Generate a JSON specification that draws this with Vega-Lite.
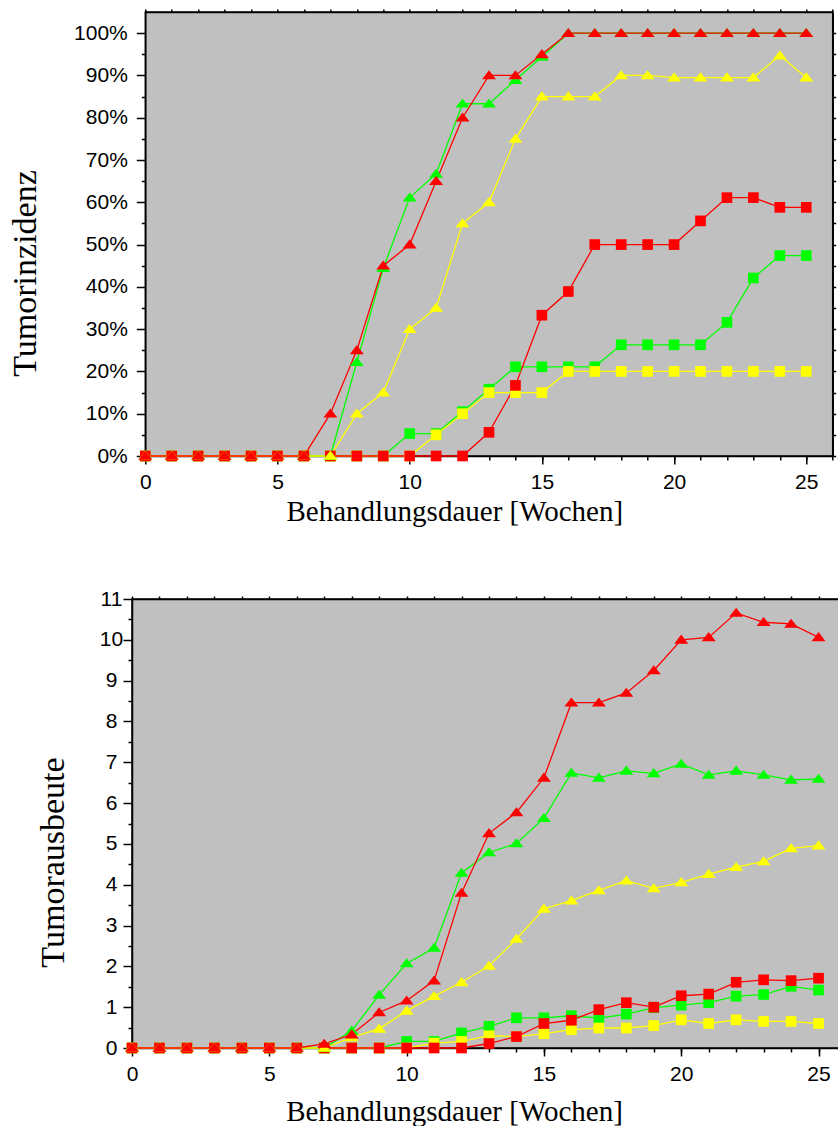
{
  "$schema": "https://vega.github.io/schema/vega-lite/v6.json",
  "autosize": {"type": "pad"},
  "padding": {"left": 7, "top": 7, "right": 0, "bottom": 0},
  "background": "#ffffff",
  "bounds": "flush",
  "center": true,
  "spacing": 143,
  "datasets": {
    "oben": [
      {"woche": 0, "gruen_Quadrat": 0, "gelb_Quadrat": 0, "rot_Quadrat": 0, "gruen_Dreieck": 0, "gelb_Dreieck": 0, "rot_Dreieck": 0},
      {"woche": 1, "gruen_Quadrat": 0, "gelb_Quadrat": 0, "rot_Quadrat": 0, "gruen_Dreieck": 0, "gelb_Dreieck": 0, "rot_Dreieck": 0},
      {"woche": 2, "gruen_Quadrat": 0, "gelb_Quadrat": 0, "rot_Quadrat": 0, "gruen_Dreieck": 0, "gelb_Dreieck": 0, "rot_Dreieck": 0},
      {"woche": 3, "gruen_Quadrat": 0, "gelb_Quadrat": 0, "rot_Quadrat": 0, "gruen_Dreieck": 0, "gelb_Dreieck": 0, "rot_Dreieck": 0},
      {"woche": 4, "gruen_Quadrat": 0, "gelb_Quadrat": 0, "rot_Quadrat": 0, "gruen_Dreieck": 0, "gelb_Dreieck": 0, "rot_Dreieck": 0},
      {"woche": 5, "gruen_Quadrat": 0, "gelb_Quadrat": 0, "rot_Quadrat": 0, "gruen_Dreieck": 0, "gelb_Dreieck": 0, "rot_Dreieck": 0},
      {"woche": 6, "gruen_Quadrat": 0, "gelb_Quadrat": 0, "rot_Quadrat": 0, "gruen_Dreieck": 0, "gelb_Dreieck": 0, "rot_Dreieck": 0},
      {"woche": 7, "gruen_Quadrat": 0, "gelb_Quadrat": 0, "rot_Quadrat": 0, "gruen_Dreieck": 0, "gelb_Dreieck": 0, "rot_Dreieck": 10},
      {"woche": 8, "gruen_Quadrat": 0, "gelb_Quadrat": 0, "rot_Quadrat": 0, "gruen_Dreieck": 22.2, "gelb_Dreieck": 10, "rot_Dreieck": 25},
      {"woche": 9, "gruen_Quadrat": 0, "gelb_Quadrat": 0, "rot_Quadrat": 0, "gruen_Dreieck": 44.4, "gelb_Dreieck": 15, "rot_Dreieck": 45},
      {"woche": 10, "gruen_Quadrat": 5.3, "gelb_Quadrat": 0, "rot_Quadrat": 0, "gruen_Dreieck": 61.1, "gelb_Dreieck": 30, "rot_Dreieck": 50},
      {"woche": 11, "gruen_Quadrat": 5.3, "gelb_Quadrat": 5, "rot_Quadrat": 0, "gruen_Dreieck": 66.7, "gelb_Dreieck": 35, "rot_Dreieck": 65},
      {"woche": 12, "gruen_Quadrat": 10.5, "gelb_Quadrat": 10, "rot_Quadrat": 0, "gruen_Dreieck": 83.3, "gelb_Dreieck": 55, "rot_Dreieck": 80},
      {"woche": 13, "gruen_Quadrat": 15.8, "gelb_Quadrat": 15, "rot_Quadrat": 5.6, "gruen_Dreieck": 83.3, "gelb_Dreieck": 60, "rot_Dreieck": 90},
      {"woche": 14, "gruen_Quadrat": 21.1, "gelb_Quadrat": 15, "rot_Quadrat": 16.7, "gruen_Dreieck": 88.9, "gelb_Dreieck": 75, "rot_Dreieck": 90},
      {"woche": 15, "gruen_Quadrat": 21.1, "gelb_Quadrat": 15, "rot_Quadrat": 33.3, "gruen_Dreieck": 94.4, "gelb_Dreieck": 85, "rot_Dreieck": 95},
      {"woche": 16, "gruen_Quadrat": 21.1, "gelb_Quadrat": 20, "rot_Quadrat": 38.9, "gruen_Dreieck": 100, "gelb_Dreieck": 85, "rot_Dreieck": 100},
      {"woche": 17, "gruen_Quadrat": 21.1, "gelb_Quadrat": 20, "rot_Quadrat": 50, "gruen_Dreieck": 100, "gelb_Dreieck": 85, "rot_Dreieck": 100},
      {"woche": 18, "gruen_Quadrat": 26.3, "gelb_Quadrat": 20, "rot_Quadrat": 50, "gruen_Dreieck": 100, "gelb_Dreieck": 90, "rot_Dreieck": 100},
      {"woche": 19, "gruen_Quadrat": 26.3, "gelb_Quadrat": 20, "rot_Quadrat": 50, "gruen_Dreieck": 100, "gelb_Dreieck": 90, "rot_Dreieck": 100},
      {"woche": 20, "gruen_Quadrat": 26.3, "gelb_Quadrat": 20, "rot_Quadrat": 50, "gruen_Dreieck": 100, "gelb_Dreieck": 89.5, "rot_Dreieck": 100},
      {"woche": 21, "gruen_Quadrat": 26.3, "gelb_Quadrat": 20, "rot_Quadrat": 55.6, "gruen_Dreieck": 100, "gelb_Dreieck": 89.5, "rot_Dreieck": 100},
      {"woche": 22, "gruen_Quadrat": 31.6, "gelb_Quadrat": 20, "rot_Quadrat": 61.1, "gruen_Dreieck": 100, "gelb_Dreieck": 89.5, "rot_Dreieck": 100},
      {"woche": 23, "gruen_Quadrat": 42.1, "gelb_Quadrat": 20, "rot_Quadrat": 61.1, "gruen_Dreieck": 100, "gelb_Dreieck": 89.5, "rot_Dreieck": 100},
      {"woche": 24, "gruen_Quadrat": 47.4, "gelb_Quadrat": 20, "rot_Quadrat": 58.8, "gruen_Dreieck": 100, "gelb_Dreieck": 94.7, "rot_Dreieck": 100},
      {"woche": 25, "gruen_Quadrat": 47.4, "gelb_Quadrat": 20, "rot_Quadrat": 58.8, "gruen_Dreieck": 100, "gelb_Dreieck": 89.5, "rot_Dreieck": 100}
    ],
    "unten": [
      {"woche": 0, "gruen_Quadrat": 0, "gelb_Quadrat": 0, "rot_Quadrat": 0, "gruen_Dreieck": 0, "gelb_Dreieck": 0, "rot_Dreieck": 0},
      {"woche": 1, "gruen_Quadrat": 0, "gelb_Quadrat": 0, "rot_Quadrat": 0, "gruen_Dreieck": 0, "gelb_Dreieck": 0, "rot_Dreieck": 0},
      {"woche": 2, "gruen_Quadrat": 0, "gelb_Quadrat": 0, "rot_Quadrat": 0, "gruen_Dreieck": 0, "gelb_Dreieck": 0, "rot_Dreieck": 0},
      {"woche": 3, "gruen_Quadrat": 0, "gelb_Quadrat": 0, "rot_Quadrat": 0, "gruen_Dreieck": 0, "gelb_Dreieck": 0, "rot_Dreieck": 0},
      {"woche": 4, "gruen_Quadrat": 0, "gelb_Quadrat": 0, "rot_Quadrat": 0, "gruen_Dreieck": 0, "gelb_Dreieck": 0, "rot_Dreieck": 0},
      {"woche": 5, "gruen_Quadrat": 0, "gelb_Quadrat": 0, "rot_Quadrat": 0, "gruen_Dreieck": 0, "gelb_Dreieck": 0, "rot_Dreieck": 0},
      {"woche": 6, "gruen_Quadrat": 0, "gelb_Quadrat": 0, "rot_Quadrat": 0, "gruen_Dreieck": 0, "gelb_Dreieck": 0, "rot_Dreieck": 0},
      {"woche": 7, "gruen_Quadrat": 0, "gelb_Quadrat": 0, "rot_Quadrat": 0, "gruen_Dreieck": 0, "gelb_Dreieck": 0, "rot_Dreieck": 0.10},
      {"woche": 8, "gruen_Quadrat": 0, "gelb_Quadrat": 0, "rot_Quadrat": 0, "gruen_Dreieck": 0.42, "gelb_Dreieck": 0.26, "rot_Dreieck": 0.33},
      {"woche": 9, "gruen_Quadrat": 0, "gelb_Quadrat": 0, "rot_Quadrat": 0, "gruen_Dreieck": 1.30, "gelb_Dreieck": 0.47, "rot_Dreieck": 0.87},
      {"woche": 10, "gruen_Quadrat": 0.16, "gelb_Quadrat": 0, "rot_Quadrat": 0, "gruen_Dreieck": 2.07, "gelb_Dreieck": 0.91, "rot_Dreieck": 1.16},
      {"woche": 11, "gruen_Quadrat": 0.16, "gelb_Quadrat": 0.12, "rot_Quadrat": 0, "gruen_Dreieck": 2.45, "gelb_Dreieck": 1.27, "rot_Dreieck": 1.65},
      {"woche": 12, "gruen_Quadrat": 0.37, "gelb_Quadrat": 0.16, "rot_Quadrat": 0, "gruen_Dreieck": 4.29, "gelb_Dreieck": 1.61, "rot_Dreieck": 3.80},
      {"woche": 13, "gruen_Quadrat": 0.53, "gelb_Quadrat": 0.30, "rot_Quadrat": 0.11, "gruen_Dreieck": 4.79, "gelb_Dreieck": 2.01, "rot_Dreieck": 5.26},
      {"woche": 14, "gruen_Quadrat": 0.74, "gelb_Quadrat": 0.28, "rot_Quadrat": 0.28, "gruen_Dreieck": 5.01, "gelb_Dreieck": 2.67, "rot_Dreieck": 5.77},
      {"woche": 15, "gruen_Quadrat": 0.74, "gelb_Quadrat": 0.35, "rot_Quadrat": 0.60, "gruen_Dreieck": 5.63, "gelb_Dreieck": 3.41, "rot_Dreieck": 6.62},
      {"woche": 16, "gruen_Quadrat": 0.79, "gelb_Quadrat": 0.45, "rot_Quadrat": 0.68, "gruen_Dreieck": 6.74, "gelb_Dreieck": 3.61, "rot_Dreieck": 8.46},
      {"woche": 17, "gruen_Quadrat": 0.73, "gelb_Quadrat": 0.49, "rot_Quadrat": 0.94, "gruen_Dreieck": 6.62, "gelb_Dreieck": 3.86, "rot_Dreieck": 8.46},
      {"woche": 18, "gruen_Quadrat": 0.83, "gelb_Quadrat": 0.49, "rot_Quadrat": 1.11, "gruen_Dreieck": 6.79, "gelb_Dreieck": 4.10, "rot_Dreieck": 8.70},
      {"woche": 19, "gruen_Quadrat": 0.99, "gelb_Quadrat": 0.55, "rot_Quadrat": 1.00, "gruen_Dreieck": 6.73, "gelb_Dreieck": 3.91, "rot_Dreieck": 9.25},
      {"woche": 20, "gruen_Quadrat": 1.05, "gelb_Quadrat": 0.69, "rot_Quadrat": 1.28, "gruen_Dreieck": 6.96, "gelb_Dreieck": 4.06, "rot_Dreieck": 10.00},
      {"woche": 21, "gruen_Quadrat": 1.11, "gelb_Quadrat": 0.60, "rot_Quadrat": 1.32, "gruen_Dreieck": 6.69, "gelb_Dreieck": 4.26, "rot_Dreieck": 10.06},
      {"woche": 22, "gruen_Quadrat": 1.27, "gelb_Quadrat": 0.69, "rot_Quadrat": 1.61, "gruen_Dreieck": 6.79, "gelb_Dreieck": 4.43, "rot_Dreieck": 10.66},
      {"woche": 23, "gruen_Quadrat": 1.31, "gelb_Quadrat": 0.65, "rot_Quadrat": 1.67, "gruen_Dreieck": 6.69, "gelb_Dreieck": 4.57, "rot_Dreieck": 10.43},
      {"woche": 24, "gruen_Quadrat": 1.51, "gelb_Quadrat": 0.65, "rot_Quadrat": 1.65, "gruen_Dreieck": 6.57, "gelb_Dreieck": 4.89, "rot_Dreieck": 10.39},
      {"woche": 25, "gruen_Quadrat": 1.42, "gelb_Quadrat": 0.60, "rot_Quadrat": 1.71, "gruen_Dreieck": 6.59, "gelb_Dreieck": 4.96, "rot_Dreieck": 10.06}
    ]
  },
  "vconcat": [
    {
      "width": 687.4,
      "height": 444,
      "data": {"name": "oben"},
      "transform": [
        {"fold": ["gruen_Quadrat", "gelb_Quadrat", "rot_Quadrat", "gruen_Dreieck", "gelb_Dreieck", "rot_Dreieck"], "as": ["serie", "wert"]}
      ],
      "layer": [
        {
          "mark": {"type": "line", "strokeWidth": 1.3},
          "encoding": {
            "x": {"field": "woche", "type": "quantitative", "scale": {"domain": [0, 26], "nice": false, "zero": false},
              "axis": {"orient": "bottom", "values": [0, 5, 10, 15, 20, 25], "tickSize": 8, "labelPadding": 7, "title": "Behandlungsdauer [Wochen]", "titleFontSize": 29, "titleX": 309, "titleY": 64, "titleBaseline": "alphabetic", "titleAlign": "center"}},
            "y": {"field": "wert", "type": "quantitative", "scale": {"domain": [0, 105], "nice": false},
              "axis": {"orient": "left", "values": [0, 10, 20, 30, 40, 50, 60, 70, 80, 90, 100], "labelExpr": "datum.value + '%'", "tickSize": 9, "labelPadding": 9, "title": "Tumorinzidenz", "titleFontSize": 34, "titleAngle": -90, "titleX": -110, "titleY": 261, "titleBaseline": "alphabetic", "titleAlign": "center"}},
            "color": {"field": "serie", "type": "nominal", "legend": null,
              "scale": {"domain": ["gruen_Quadrat", "gelb_Quadrat", "rot_Quadrat", "gruen_Dreieck", "gelb_Dreieck", "rot_Dreieck"], "range": ["#00FF00", "#FFFF00", "#FF0000", "#00FF00", "#FFFF00", "#FF0000"]}}
          }
        },
        {
          "transform": [{"filter": {"field": "serie", "oneOf": ["gruen_Quadrat", "gelb_Quadrat", "rot_Quadrat"]}}],
          "mark": {"type": "point", "shape": "square", "filled": true, "size": 114, "opacity": 1},
          "encoding": {
            "x": {"field": "woche", "type": "quantitative",
              "axis": {"orient": "bottom", "values": [0,1,2,3,4,5,6,7,8,9,10,11,12,13,14,15,16,17,18,19,20,21,22,23,24,25,26], "tickSize": 4, "labels": false, "domain": false, "title": null}},
            "y": {"field": "wert", "type": "quantitative",
              "axis": {"orient": "left", "values": [5, 15, 25, 35, 45, 55, 65, 75, 85, 95], "tickSize": 4, "labels": false, "domain": false, "title": null}},
            "color": {"field": "serie", "type": "nominal", "legend": null}
          }
        },
        {
          "transform": [{"filter": {"field": "serie", "oneOf": ["gruen_Dreieck", "gelb_Dreieck", "rot_Dreieck"]}}],
          "mark": {"type": "point", "shape": "M0,-0.75L1,0.55L-1,0.55Z", "filled": true, "size": 196, "opacity": 1},
          "encoding": {
            "x": {"field": "woche", "type": "quantitative",
              "axis": {"orient": "top", "values": [0,1,2,3,4,5,6,7,8,9,10,11,12,13,14,15,16,17,18,19,20,21,22,23,24,25,26], "tickSize": 3, "labels": false, "title": null}},
            "y": {"field": "wert", "type": "quantitative",
              "axis": {"orient": "right", "values": [0, 5, 10, 15, 20, 25, 30, 35, 40, 45, 50, 55, 60, 65, 70, 75, 80, 85, 90, 95, 100], "tickSize": 3, "labels": false, "title": null}},
            "color": {"field": "serie", "type": "nominal", "legend": null}
          }
        }
      ],
      "resolve": {"axis": {"x": "independent", "y": "independent"}}
    },
    {
      "width": 714,
      "height": 449,
      "data": {"name": "unten"},
      "transform": [
        {"fold": ["gruen_Quadrat", "gelb_Quadrat", "rot_Quadrat", "gruen_Dreieck", "gelb_Dreieck", "rot_Dreieck"], "as": ["serie", "wert"]}
      ],
      "layer": [
        {
          "mark": {"type": "line", "strokeWidth": 1.3},
          "encoding": {
            "x": {"field": "woche", "type": "quantitative", "scale": {"domain": [0, 26], "nice": false, "zero": false},
              "axis": {"orient": "bottom", "values": [0, 5, 10, 15, 20, 25], "tickSize": 8, "labelPadding": 7, "title": "Behandlungsdauer [Wochen]", "titleFontSize": 29, "titleX": 322, "titleY": 72, "titleBaseline": "alphabetic", "titleAlign": "center"}},
            "y": {"field": "wert", "type": "quantitative", "scale": {"domain": [0, 11], "nice": false},
              "axis": {"orient": "left", "values": [0, 1, 2, 3, 4, 5, 6, 7, 8, 9, 10, 11], "tickSize": 9, "labelPadding": 12, "labelAlign": "center", "title": "Tumorausbeute", "titleFontSize": 34, "titleAngle": -90, "titleX": -69, "titleY": 263, "titleBaseline": "alphabetic", "titleAlign": "center"}},
            "color": {"field": "serie", "type": "nominal", "legend": null,
              "scale": {"domain": ["gruen_Quadrat", "gelb_Quadrat", "rot_Quadrat", "gruen_Dreieck", "gelb_Dreieck", "rot_Dreieck"], "range": ["#00FF00", "#FFFF00", "#FF0000", "#00FF00", "#FFFF00", "#FF0000"]}}
          }
        },
        {
          "transform": [{"filter": {"field": "serie", "oneOf": ["gruen_Quadrat", "gelb_Quadrat", "rot_Quadrat"]}}],
          "mark": {"type": "point", "shape": "square", "filled": true, "size": 114, "opacity": 1},
          "encoding": {
            "x": {"field": "woche", "type": "quantitative",
              "axis": {"orient": "bottom", "values": [0,1,2,3,4,5,6,7,8,9,10,11,12,13,14,15,16,17,18,19,20,21,22,23,24,25,26], "tickSize": 4, "labels": false, "domain": false, "title": null}},
            "y": {"field": "wert", "type": "quantitative",
              "axis": {"orient": "left", "values": [0.5, 1.5, 2.5, 3.5, 4.5, 5.5, 6.5, 7.5, 8.5, 9.5, 10.5], "tickSize": 4, "labels": false, "domain": false, "title": null}},
            "color": {"field": "serie", "type": "nominal", "legend": null}
          }
        },
        {
          "transform": [{"filter": {"field": "serie", "oneOf": ["gruen_Dreieck", "gelb_Dreieck", "rot_Dreieck"]}}],
          "mark": {"type": "point", "shape": "M0,-0.75L1,0.55L-1,0.55Z", "filled": true, "size": 196, "opacity": 1},
          "encoding": {
            "x": {"field": "woche", "type": "quantitative",
              "axis": {"orient": "top", "values": [0,1,2,3,4,5,6,7,8,9,10,11,12,13,14,15,16,17,18,19,20,21,22,23,24,25,26], "tickSize": 3, "labels": false, "title": null}},
            "y": {"field": "wert", "type": "quantitative",
              "axis": {"orient": "right", "values": [0, 0.5, 1, 1.5, 2, 2.5, 3, 3.5, 4, 4.5, 5, 5.5, 6, 6.5, 7, 7.5, 8, 8.5, 9, 9.5, 10, 10.5, 11], "tickSize": 3, "labels": false, "title": null}},
            "color": {"field": "serie", "type": "nominal", "legend": null}
          }
        }
      ],
      "resolve": {"axis": {"x": "independent", "y": "independent"}}
    }
  ],
  "config": {
    "view": {"fill": "#C0C0C0", "stroke": "#000000", "strokeWidth": 1.5},
    "axis": {"domainColor": "#000000", "tickColor": "#000000", "domainWidth": 1.5, "tickWidth": 1.5, "labelFont": "Liberation Sans", "labelFontSize": 21, "labelColor": "#000000", "titleFont": "Liberation Serif", "titleFontWeight": "normal", "titleColor": "#000000", "grid": false, "labelFlush": false, "labelOverlap": false, "labelBound": false}
  }
}
